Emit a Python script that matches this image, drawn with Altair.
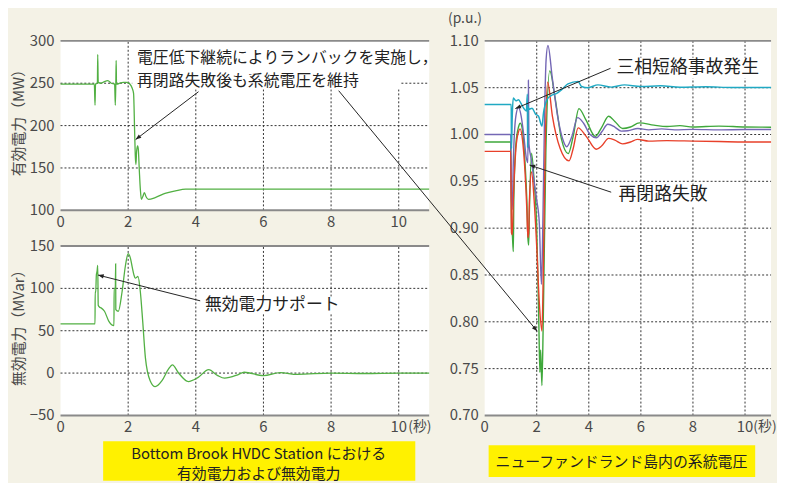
import math
import altair as alt
import pandas as pd

# ---------------- data ----------------
# Bottom Brook HVDC station: active power (MW)
P_T = [0, 1.00, 1.02, 1.035, 1.09, 1.10, 1.115, 1.2, 1.3, 1.4, 1.5, 1.6, 1.62, 1.635, 1.645, 1.655,
       1.67, 1.75, 1.85, 1.95, 2.05, 2.12, 2.16, 2.19, 2.21, 2.23, 2.25, 2.28, 2.30, 2.33, 2.36, 2.39,
       2.44, 2.48, 2.53, 2.6, 2.8, 3.09, 3.4, 3.7, 10.9]
P_V = [249, 249, 224, 249, 250, 284, 251, 250, 252, 253, 250, 249, 224, 250, 277, 250,
       249, 250, 251, 251, 249, 244, 238, 195, 165, 154, 170, 176, 172, 147, 125, 113,
       117, 121, 116, 113, 115, 120, 123, 125, 125]

# reactive power (MVar)
Q_T = [0, 1.02, 1.025, 1.04, 1.06, 1.08, 1.10, 1.115, 1.15, 1.2, 1.3, 1.43, 1.58, 1.585, 1.62, 1.63,
       1.635, 1.71, 1.82, 1.92, 2.0, 2.07, 2.12, 2.17, 2.21, 2.29, 2.36, 2.43, 2.51, 2.65, 2.8, 3.0,
       3.19, 3.31, 3.48, 3.78, 4.07, 4.38, 4.65, 4.85, 5.24, 5.43, 6.0, 6.5, 7.0, 8.0, 9.0, 10.0, 10.9]
Q_V = [58, 58, 96, 95, 116, 120, 127, 80, 78, 77, 73, 61, 56, 100, 100, 129,
       75, 73, 96, 127, 141, 135, 125, 116, 112, 114, 96, 61, 18, -9, -16, -9,
       4.6, 9.7, 0.7, -10, -5, 4, -3, -6, -2, 1, -3, 0.5, -1.5, 0, -0.5, 0, 0]

# Newfoundland system voltages (p.u.)
G_T = [0, 1.0, 1.03, 1.06, 1.1, 1.12, 1.2, 1.3, 1.37, 1.45, 1.55, 1.62, 1.66, 1.69, 1.72, 1.8,
       1.9, 2.0, 2.08, 2.12, 2.15, 2.2, 2.25, 2.35, 2.5, 2.7, 2.95, 3.21, 3.4, 3.62, 3.9, 4.25,
       4.5, 4.76, 5.0, 5.3, 5.6, 5.94, 6.5, 7.0, 7.5, 8.0, 9.0, 10.0, 11.0]
G_V = [0.992, 0.992, 0.90, 0.895, 0.875, 0.93, 0.99, 1.008, 1.012, 1.005, 0.97, 0.93, 0.89, 0.882, 0.92, 0.98,
       0.95, 0.90, 0.80, 0.746, 0.77, 0.732, 0.80, 0.98, 1.068, 1.04, 0.995, 0.9796, 0.998, 1.0277, 1.015, 0.998,
       1.008, 1.0195, 1.014, 1.0064, 1.008, 1.0124, 1.010, 1.0085, 1.0095, 1.008, 1.009, 1.008, 1.0078]

U_T = [0, 1.0, 1.03, 1.06, 1.1, 1.2, 1.3, 1.4, 1.5, 1.6, 1.66, 1.68, 1.70, 1.8, 1.9, 2.0,
       2.1, 2.18, 2.22, 2.3, 2.36, 2.43, 2.6, 2.8, 3.0, 3.15, 3.35, 3.57, 3.8, 4.05, 4.29, 4.5,
       4.73, 5.0, 5.24, 5.5, 5.88, 6.3, 6.8, 7.3, 8.0, 9.0, 10.0, 11.0]
U_V = [1.000, 1.000, 0.93, 0.92, 0.97, 1.02, 1.029, 1.02, 1.0, 0.975, 0.97, 1.058, 0.99, 0.972, 0.95, 0.93,
       0.905, 0.84, 0.88, 1.02, 1.08, 1.095, 1.06, 1.02, 0.995, 0.987, 0.998, 1.018, 1.012, 1.0, 0.9965, 1.003,
       1.011, 1.008, 1.0036, 1.004, 1.0064, 1.005, 1.006, 1.005, 1.0055, 1.005, 1.0053, 1.0053]

R_T = [0, 1.0, 1.03, 1.06, 1.1, 1.2, 1.3, 1.36, 1.45, 1.55, 1.62, 1.66, 1.69, 1.72, 1.8, 1.9,
       2.0, 2.1, 2.2, 2.25, 2.32, 2.42, 2.6, 2.9, 3.24, 3.4, 3.59, 3.9, 4.29, 4.5, 4.76, 5.0,
       5.3, 5.6, 5.87, 6.3, 7.0, 8.0, 9.0, 10.0, 11.0]
R_V = [0.982, 0.982, 0.895, 0.893, 0.93, 0.985, 1.003, 1.006, 0.995, 0.96, 0.92, 0.89, 0.895, 0.93, 0.96, 0.93,
       0.88, 0.82, 0.79, 0.85, 0.98, 1.056, 1.02, 0.985, 0.9718, 0.985, 1.0071, 0.998, 0.9842, 0.988, 0.9959, 0.994,
       0.990, 0.992, 0.9948, 0.993, 0.9935, 0.993, 0.9925, 0.992, 0.992]

C_T = [0, 1.02, 1.03, 1.06, 1.1, 1.2, 1.3, 1.4, 1.5, 1.6, 1.64, 1.65, 1.66, 1.7, 1.82, 1.95,
       2.07, 2.2, 2.26, 2.39, 2.52, 2.77, 2.96, 3.2, 3.59, 3.72, 3.97, 4.35, 4.86, 5.37, 6.0, 6.76,
       7.5, 8.5, 9.5, 11.0]
C_V = [1.032, 1.032, 0.985, 1.02, 1.039, 1.036, 1.037, 1.033, 1.028, 1.025, 1.043, 0.986, 1.03, 1.027, 1.028, 1.022,
       1.0195, 1.009, 1.023, 1.037, 1.041, 1.044, 1.048, 1.054, 1.0566, 1.0513, 1.050, 1.053, 1.0506, 1.053, 1.0513, 1.052,
       1.0505, 1.051, 1.0502, 1.0502]

X_TICKS = [0, 2, 4, 6, 8, 10]
P_TICKS = [100, 150, 200, 250, 300]
Q_TICKS = [-50, 0, 50, 100, 150]
V_TICKS = [0.70, 0.75, 0.80, 0.85, 0.90, 0.95, 1.00, 1.05, 1.10]

# ---------------- style ----------------
BG = "#F4F2E6"
FONT = "Noto Sans CJK JP"
LC = "#4a4a4a"
TXT = "#222222"
GRIDC = "#333333"
BORDER = "#8a8a8a"
YELLOW = "#FFF100"
GREEN_L = "#52B043"
SER_COL = {"green": "#3FA83B", "purple": "#7467B5", "red": "#E8402A", "cyan": "#20A9C3"}

# pixel layout (relative to top-left plot corner)
TOTAL_W, TOTAL_H = 717, 378
L_W, L_H = 372, 171
L_BOT_TOP = 207
R_X0 = 428
ARROW_SHAPE = "M0,0L-0.38,1L0.38,1Z"
one = pd.DataFrame({"k": [0]})


def panel(xdom, xr, ydom, yr, series, grid_x, grid_y, rects, arrows, texts,
          ylabels, ytitle=None, ytitle_val=None, sec_x=None, extra_txt=None):
    xs = alt.Scale(domain=xdom, range=xr, nice=False, zero=False)
    ys = alt.Scale(domain=ydom, range=yr, nice=False, zero=False)
    X = lambda f: alt.X(f, type="quantitative", scale=xs, axis=None)
    Y = lambda f: alt.Y(f, type="quantitative", scale=ys, axis=None)
    pxx = abs(xr[1] - xr[0]) / (xdom[1] - xdom[0])
    pxy = abs(yr[1] - yr[0]) / (ydom[1] - ydom[0])
    L = []
    # white plot background
    L.append(alt.Chart(pd.DataFrame({"a": [xdom[0]], "b": [xdom[1]], "c": [ydom[0]], "d": [ydom[1]]}))
             .mark_rect(color="white").encode(x=X("a"), x2=alt.X2("b"), y=Y("c"), y2=alt.Y2("d")))
    # dotted grid
    L.append(alt.Chart(pd.DataFrame({"g": grid_x, "y0": ydom[0], "y1": ydom[1]}))
             .mark_rule(color=GRIDC, strokeDash=[2, 2], strokeWidth=1)
             .encode(x=X("g"), y=Y("y0"), y2=alt.Y2("y1")))
    L.append(alt.Chart(pd.DataFrame({"g": grid_y, "x0": xdom[0], "x1": xdom[1]}))
             .mark_rule(color=GRIDC, strokeDash=[2, 2], strokeWidth=1)
             .encode(y=Y("g"), x=X("x0"), x2=alt.X2("x1")))
    # white boxes behind annotation text
    if rects:
        rdf = pd.DataFrame(rects, columns=["a", "b", "c", "d"])
        L.append(alt.Chart(rdf).mark_rect(color="white").encode(
            x=X("a"), x2=alt.X2("b"), y=Y("c"), y2=alt.Y2("d")))
    # data lines
    for t, v, col, sw in series:
        L.append(alt.Chart(pd.DataFrame({"t": t, "v": v}))
                 .mark_line(color=col, strokeWidth=sw, interpolate="monotone")
                 .encode(x=X("t"), y=Y("v")))
    # top border and bottom axis line
    L.append(alt.Chart(pd.DataFrame({"y": [ydom[1], ydom[0]], "x0": xdom[0], "x1": xdom[1]}))
             .mark_rule(color=BORDER, strokeWidth=2).encode(y=Y("y"), x=X("x0"), x2=alt.X2("x1")))
    # x tick labels
    L.append(alt.Chart(pd.DataFrame({"v": X_TICKS, "y": ydom[0], "s": [str(t) for t in X_TICKS]}))
             .mark_text(align="center", baseline="middle", dy=12, font=FONT, fontSize=15, color=LC)
             .encode(x=X("v"), y=Y("y"), text="s:N"))
    # y tick labels
    vals, labs = ylabels
    L.append(alt.Chart(pd.DataFrame({"v": vals, "x": xdom[0], "s": labs}))
             .mark_text(align="right", baseline="middle", dx=-6, font=FONT, fontSize=15, color=LC)
             .encode(x=X("x"), y=Y("v"), text="s:N"))
    # y title
    if ytitle:
        L.append(alt.Chart(pd.DataFrame({"x": [xdom[0]], "y": [ytitle_val], "s": [ytitle]}))
                 .mark_text(align="center", baseline="middle", angle=270, dx=0, dy=-42, font=FONT,
                            fontSize=15, color=LC)
                 .encode(x=X("x"), y=Y("y"), text="s:N"))
    # seconds unit
    if sec_x is not None:
        L.append(alt.Chart(pd.DataFrame({"x": [sec_x], "y": [ydom[0]], "s": ["(秒)"]}))
                 .mark_text(align="left", baseline="middle", dy=12, font=FONT, fontSize=14, color=LC)
                 .encode(x=X("x"), y=Y("y"), text="s:N"))
    # arrows
    if arrows:
        adf = pd.DataFrame(arrows, columns=["x0", "y0", "x1", "y1"])
        adf["ang"] = [(math.degrees(math.atan2((r.x1 - r.x0) * pxx, (r.y1 - r.y0) * pxy)) + 360) % 360
                      for r in adf.itertuples()]
        L.append(alt.Chart(adf).mark_rule(color=TXT, strokeWidth=1).encode(
            x=X("x0"), y=Y("y0"), x2=alt.X2("x1"), y2=alt.Y2("y1")))
        L.append(alt.Chart(adf).mark_point(shape=ARROW_SHAPE, filled=True, color=TXT, opacity=1,
                                           size=130)
                 .encode(x=X("x1"), y=Y("y1"), angle=alt.Angle("ang:Q", scale=None)))
    # annotation texts
    for tx, ty, s, fs in texts:
        L.append(alt.Chart(pd.DataFrame({"x": [tx], "y": [ty], "s": [s]}))
                 .mark_text(align="left", baseline="middle", font=FONT, fontSize=fs, color=TXT)
                 .encode(x=X("x"), y=Y("y"), text="s:N"))
    if extra_txt:
        for tx, ty, s, fs, dx, dy in extra_txt:
            L.append(alt.Chart(pd.DataFrame({"x": [tx], "y": [ty], "s": [s]}))
                     .mark_text(align="left", baseline="middle", dx=dx, dy=dy, font=FONT, fontSize=fs,
                                color=LC)
                     .encode(x=X("x"), y=Y("y"), text="s:N"))
    return L


layers = []
# canvas background (sets overall bounds)
layers.append(alt.Chart(one).mark_rect(color=BG).encode(
    x=alt.value(-53), x2=alt.value(716), y=alt.value(-31), y2=alt.value(436)))

# top-left: active power
layers += panel(
    [0, 10.9], [0, L_W], [100, 300], [L_H, 0],
    [(P_T, P_V, GREEN_L, 1.3)],
    [2, 4, 6, 8, 10], [150, 200, 250],
    [(2.12, 10.05, 243, 300), (10.05, 10.9, 262, 300)],
    [(4.08, 240, 2.22, 183.5)],
    [(2.26, 279.8, "電圧低下継続によりランバックを実施し，", 16),
     (2.26, 252.5, "再閉路失敗後も系統電圧を維持", 16)],
    (P_TICKS, [str(v) for v in P_TICKS]),
    ytitle="有効電力（MW）", ytitle_val=207.6,
)

# bottom-left: reactive power
layers += panel(
    [0, 10.9], [0, L_W], [-50, 150], [TOTAL_H, L_BOT_TOP],
    [(Q_T, Q_V, GREEN_L, 1.3)],
    [2, 4, 6, 8, 10], [0, 50, 100],
    [(4.2, 8.45, 71, 90)],
    [(4.13, 85.3, 1.11, 115.7)],
    [(4.27, 80.6, "無効電力サポート", 17)],
    (Q_TICKS, [("−" + str(-v)) if v < 0 else str(v) for v in Q_TICKS]),
    ytitle="無効電力（MVar）", ytitle_val=57.6, sec_x=10.28,
)

# right: system voltages
layers += panel(
    [0, 11], [R_X0, TOTAL_W], [0.70, 1.10], [TOTAL_H, 0],
    [(G_T, G_V, SER_COL["green"], 1.4), (U_T, U_V, SER_COL["purple"], 1.4),
     (R_T, R_V, SER_COL["red"], 1.4), (C_T, C_V, SER_COL["cyan"], 1.5)],
    [2, 4, 6, 8, 10], [0.75, 0.80, 0.85, 0.90, 0.95, 1.00, 1.05],
    [(5.06, 10.8, 1.0598, 1.082), (5.06, 8.8, 0.9233, 0.9458)],
    [(4.834, 1.0707, 1.18, 1.0277), (4.86, 0.9384, 1.724, 0.9674), (-5.607, 1.0468, 2.017, 0.790)],
    [(5.06, 1.0707, "三相短絡事故発生", 18), (5.14, 0.935, "再閉路失敗", 18)],
    (V_TICKS, [f"{v:.2f}" for v in V_TICKS]),
    sec_x=10.32,
    extra_txt=[(0, 1.10, "(p.u.)", 14, -37, -22)],
)

# captions
cap_style = dict(align="center", baseline="middle", font=FONT, color=TXT)
layers += [
    alt.Chart(one).mark_rect(color=YELLOW).encode(
        x=alt.value(43), x2=alt.value(358), y=alt.value(404), y2=alt.value(444)),
    alt.Chart(one).mark_text(fontSize=15, **cap_style).encode(
        x=alt.value(200), y=alt.value(417), text=alt.value("Bottom Brook HVDC Station における")),
    alt.Chart(one).mark_text(fontSize=15, **cap_style).encode(
        x=alt.value(200), y=alt.value(437), text=alt.value("有効電力および無効電力")),
    alt.Chart(one).mark_rect(color=YELLOW).encode(
        x=alt.value(432), x2=alt.value(701), y=alt.value(408), y2=alt.value(440)),
    alt.Chart(one).mark_text(fontSize=15, **cap_style).encode(
        x=alt.value(566), y=alt.value(425), text=alt.value("ニューファンドランド島内の系統電圧")),
]

chart = alt.layer(*layers).resolve_scale(x="independent", y="independent").properties(
    width=TOTAL_W, height=TOTAL_H, padding=0
).configure(background=BG).configure_view(stroke=None)

chart.save("out.html", embed_options={"renderer": "svg", "actions": False})
